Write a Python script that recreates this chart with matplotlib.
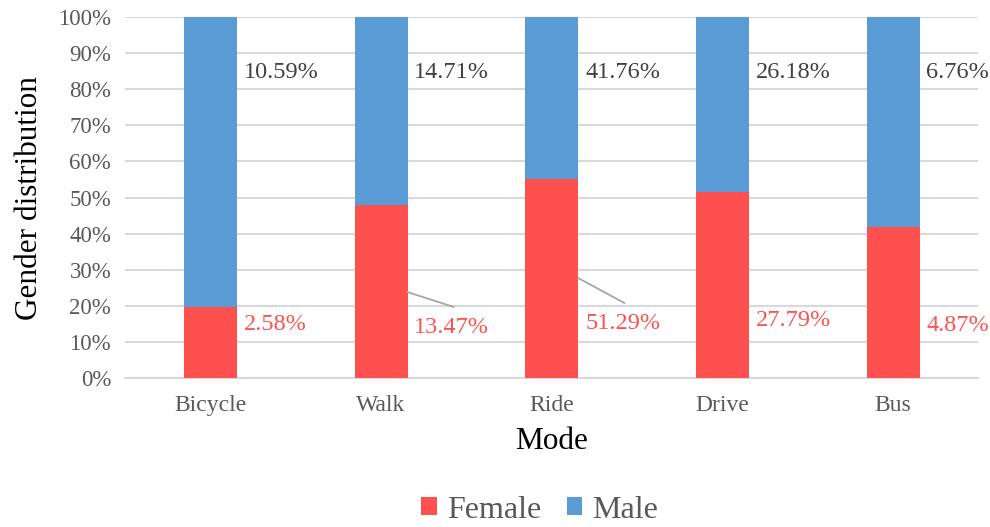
import matplotlib.pyplot as plt
import numpy as np
from matplotlib.ticker import PercentFormatter

plt.rcParams['font.family'] = ['Liberation Serif', 'DejaVu Serif']

# 데이터 (라벨 값: 전체 대비 %)
modes = ['Bicycle', 'Walk', 'Ride', 'Drive', 'Bus']
female_pct = [2.58, 13.47, 51.29, 27.79, 4.87]
male_pct = [10.59, 14.71, 41.76, 26.18, 6.76]

# 라벨 위치 (y, %)
female_label_y = [14.8, 14.0, 15.2, 15.8, 14.6]
male_label_y = [84.7, 84.7, 84.7, 84.7, 84.7]
# 리더 라인 (시작 y, 끝 y) - 없으면 None
leader_y = [None, (23.8, 19.7), (27.7, 20.8), None, None]

red = '#FF5050'
blue = '#5B9BD5'
grey = '#595959'

f = np.array(female_pct)
m = np.array(male_pct)
female_share = f / (f + m) * 100
male_share = 100 - female_share
x = np.arange(len(modes))
w = 0.31

fig = plt.figure(figsize=(9.9, 5.27), dpi=100)
ax = fig.add_axes([0.1263, 0.2827, 0.862, 0.685])

ax.bar(x, female_share, w, color=red, label='Female', zorder=3)
ax.bar(x, male_share, w, bottom=female_share, color=blue, label='Male', zorder=3)

# 데이터 라벨
for i in range(len(modes)):
    ax.text(x[i] + w / 2 + 0.04, male_label_y[i], f'{male_pct[i]:.2f}%',
            fontsize=17.5, color='#404040', va='center', ha='left')
    ax.text(x[i] + w / 2 + 0.04, female_label_y[i], f'{female_pct[i]:.2f}%',
            fontsize=17.5, color=red, va='center', ha='left')
    if leader_y[i] is not None:
        ax.plot([x[i] + w / 2, x[i] + w / 2 + 0.27], list(leader_y[i]),
                color='#A6A6A6', lw=1.3, zorder=4)

ax.set_xlim(-0.5, len(modes) - 0.5)
ax.set_ylim(0, 100)
ax.set_yticks(np.arange(0, 101, 10))
ax.yaxis.set_major_formatter(PercentFormatter(decimals=0))
ax.set_xticks(x)
ax.set_xticklabels(modes)
ax.tick_params(axis='y', labelsize=16.5, colors=grey, length=0, pad=10)
ax.tick_params(axis='x', labelsize=17, colors=grey, length=0, pad=12)
ax.grid(axis='y', color='#D9D9D9', lw=1.5, zorder=0)
for s in ['top', 'right', 'left']:
    ax.spines[s].set_visible(False)
ax.spines['bottom'].set_color('#D9D9D9')
ax.spines['bottom'].set_linewidth(1.5)

ax.set_xlabel('Mode', fontsize=22.5, color='black', labelpad=8)
ax.set_ylabel('Gender distribution', fontsize=22.5, color='black', labelpad=10)

fig.legend(loc='center', bbox_to_anchor=(0.545, 0.032), ncol=2, frameon=False,
           fontsize=23, handlelength=0.5, handleheight=0.5, handletextpad=0.3,
           columnspacing=0.8, labelcolor=grey)

fig.savefig('out.png', dpi=100)
